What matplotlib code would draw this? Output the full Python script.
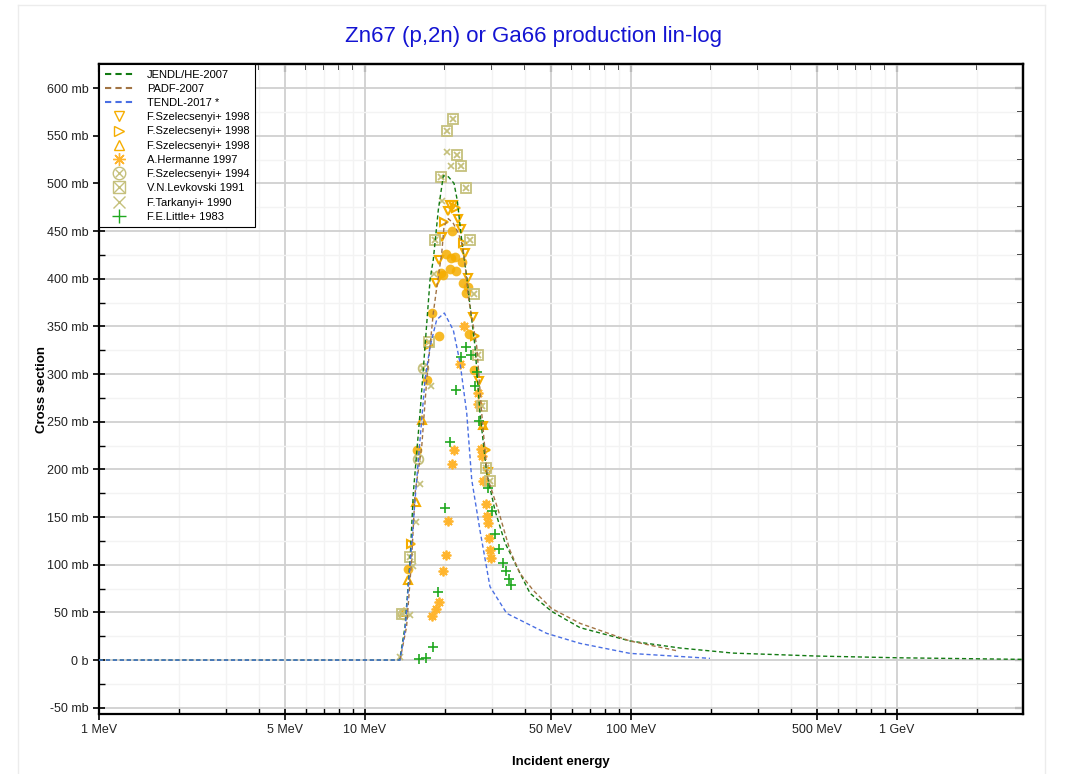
import matplotlib
matplotlib.use("Agg")
import matplotlib.pyplot as plt
import numpy as np
from matplotlib.lines import Line2D
from matplotlib.legend_handler import HandlerTuple
from matplotlib.ticker import FixedLocator, FuncFormatter, MultipleLocator, NullFormatter

plt.rcParams['font.family'] = ['Liberation Sans', 'DejaVu Sans']

# Evaluated data (energy in MeV, cross section in mb)
jendl_e = [1, 13.5, 14.14, 14.77, 15.19, 16.10, 16.81, 17.56, 18.06, 18.86, 19.70, 20.57, 21.61, 22.23,
           23.10, 24.12, 24.67, 25.91, 27.05, 28.68, 30.80, 33.59, 37.18, 41.73, 50.33, 64.3, 99.1,
           152.9, 241.8, 500, 1000, 3000]
jendl_xs = [0, 0, 35, 105, 175, 259, 329, 399, 420, 472, 508, 507, 500, 482,
            440, 402, 378, 329, 259, 196, 157, 123, 98, 70, 51, 34, 20,
            12.6, 7.3, 4.2, 2.4, 0.7]

padf_e = [13.54, 14.33, 14.97, 15.42, 16.34, 17.06, 18.06, 18.49, 19.43, 19.82, 20.57, 21.48, 22.43,
          23.30, 23.97, 24.45, 26.30, 27.46, 28.83, 31.70, 35.07, 38.24, 42.93, 50.33, 64.3, 99.1, 148.5]
padf_xs = [0, 35, 105, 175, 224, 294, 364, 385, 427, 455, 463, 458, 448,
           434, 406, 381, 329, 259, 192, 157, 115, 91, 73, 54, 38.5, 20, 9.8]

tendl_e = [1, 13.54, 14.14, 14.77, 15.42, 16.10, 16.81, 17.56, 18.60, 19.87, 21.48, 22.76, 24.12,
           25.19, 27.05, 29.50, 34.09, 48.17, 64.3, 99.1, 198]
tendl_xs = [0, 0, 31, 100, 168, 231, 294, 329, 357, 364, 346, 312, 259,
            189, 136, 77, 49, 28, 17.5, 7.0, 1.8]

# Experimental data
szel98a_e = [18.49, 18.98, 19.53, 20.46, 20.87, 21.48, 22.43, 22.96, 23.76, 24.45, 25.41, 26.90, 27.84, 29.07]
szel98a_xs = [395, 420, 444, 471, 477, 477, 463, 452, 427, 401, 360, 293, 246, 197]

szel98b_e = [14.89, 17.45, 19.87, 21.93, 23.42, 25.91, 28.50]
szel98b_xs = [122, 330, 460, 474, 437, 340, 220]

szel98c_e = [14.02, 14.47, 15.55, 16.34, 27.84]
szel98c_xs = [50, 84, 166, 252, 247]

herm97_e = [17.91, 18.45, 19.03, 19.59, 20.16, 20.46, 21.29, 21.66, 22.76, 23.56, 26.53, 26.67,
            27.30, 27.46, 27.84, 28.43, 28.68, 28.93, 29.26, 29.50, 29.77]
herm97_xs = [46.5, 54, 61, 93, 110, 146, 206, 220, 311, 350, 280, 269,
             221, 214, 188, 164, 151, 144, 128, 115, 107]

szel94_e = [15.78, 16.56, 13.90]
szel94_xs = [211, 306, 48]

levk91_e = [21.36, 20.28, 22.12, 23.01, 19.26, 23.90, 18.28, 24.75, 25.70, 26.67, 17.45,
            27.54, 28.50, 29.50, 14.77, 13.78]
levk91_xs = [568, 555, 530, 518, 507, 495, 441, 441, 384, 320, 334,
             266, 201, 188, 108, 48]

tark90_e = [20.28, 21.13, 19.48, 18.22, 17.71, 16.14, 15.51, 15.19, 14.77, 13.54]
tark90_xs = [533, 518, 482, 405, 287, 185, 145, 99, 47, 3.5]

little83_e = [15.96, 16.96, 17.97, 18.86, 19.99, 20.87, 21.93, 22.96, 23.90, 25.03, 25.91, 26.37,
              26.83, 28.93, 29.94, 30.80, 31.89, 32.93, 33.89, 34.78, 35.39]
little83_xs = [1.4, 2.4, 14, 71, 160, 229, 283, 318, 328, 320, 287, 302,
               251, 180, 156, 132, 117, 102, 93, 85, 79]

# unlabelled filled points
dots_e = [14.55, 15.65, 17.06, 17.91, 18.94, 19.31, 19.70, 20.16, 20.87, 21.06, 21.18, 21.79,
          21.93, 23.16, 23.42, 23.90, 24.45, 24.66, 25.76]
dots_xs = [95, 220, 294, 364, 340, 406, 404, 426, 410, 422, 450, 423,
           408, 418, 396, 385, 391, 342, 304]

xtick_vals = [1, 5, 10, 50, 100, 500, 1000]
xtick_labels = ["1 MeV", "5 MeV", "10 MeV", "50 MeV", "100 MeV", "500 MeV", "1 GeV"]

c_green = "#127a12"
c_brown = "#a27444"
c_blue = "#4a6fe3"
c_orange = "#f5ad00"
c_orange2 = "#ffb52e"
c_khaki = "#c5c07c"
c_plus = "#1fa81f"

fig = plt.figure(figsize=(10.71, 7.74), dpi=100)
ax = fig.add_axes([0.0924, 0.0775, 0.863, 0.8398])

dash = (0, (3, 2))
ax.plot(jendl_e, jendl_xs, color=c_green, lw=1, ls=dash, zorder=4)
ax.plot(padf_e, padf_xs, color=c_brown, lw=1, ls=dash, zorder=4)
ax.plot(tendl_e, tendl_xs, color=c_blue, lw=1, ls=dash, zorder=4)

ax.plot(dots_e, dots_xs, ls="none", marker="o", ms=7, color=c_orange, alpha=0.85, mew=0, zorder=3)
ax.plot(szel98a_e, szel98a_xs, ls="none", marker="v", ms=6, mfc="none", mec=c_orange, mew=1.5, zorder=3)
ax.plot(szel98b_e, szel98b_xs, ls="none", marker=">", ms=6, mfc="none", mec=c_orange, mew=1.5, zorder=3)
ax.plot(szel98c_e, szel98c_xs, ls="none", marker="^", ms=6, mfc="none", mec=c_orange, mew=1.5, zorder=3)
ax.plot(herm97_e, herm97_xs, ls="none", marker=(8, 2, 0), ms=7, color=c_orange2, mew=1.3, zorder=3)
ax.plot(szel94_e, szel94_xs, ls="none", marker="o", ms=7, mfc="none", mec=c_khaki, mew=1.3, zorder=3)
ax.plot(szel94_e, szel94_xs, ls="none", marker="x", ms=5, color=c_khaki, mew=1.3, zorder=3)
ax.plot(levk91_e, levk91_xs, ls="none", marker="s", ms=6.5, mfc="none", mec=c_khaki, mew=1.3, zorder=3)
ax.plot(levk91_e, levk91_xs, ls="none", marker="x", ms=5, color=c_khaki, mew=1.3, zorder=3)
ax.plot(tark90_e, tark90_xs, ls="none", marker="x", ms=5, color=c_khaki, mew=1.2, zorder=3)
ax.plot(little83_e, little83_xs, ls="none", marker="+", ms=7, color=c_plus, mew=1.2, zorder=3)

# axes
ax.set_xscale("log")
ax.set_xlim(1, 2980)
ax.set_ylim(-56.6, 625.2)
minor_x = [m * 10 ** k for k in range(0, 4) for m in range(2, 10)]
minor_x = [v for v in minor_x if v not in xtick_vals and v < 2980]
ax.xaxis.set_major_locator(FixedLocator(xtick_vals))
ax.set_xticklabels(xtick_labels)
ax.xaxis.set_minor_locator(FixedLocator(minor_x))
ax.xaxis.set_minor_formatter(NullFormatter())
ax.yaxis.set_major_locator(MultipleLocator(50))
ax.yaxis.set_minor_locator(MultipleLocator(25))
ax.yaxis.set_major_formatter(FuncFormatter(lambda v, p: "0 b" if abs(v) < 1e-9 else f"{int(round(v))} mb"))

ax.grid(which="major", color="#d0d0d0", lw=1.3)
ax.grid(which="minor", color="#f3f3f3", lw=1.0)
ax.set_axisbelow(True)
ax.tick_params(which="major", direction="inout", length=8, width=1.2, labelsize=9, labelcolor="#222222")
ax.tick_params(which="minor", direction="in", length=4, width=1)
for s in ax.spines.values():
    s.set_linewidth(1.6)

# inward ticks on top and right
axt = ax.secondary_xaxis("top")
axt.xaxis.set_major_locator(FixedLocator(xtick_vals))
axt.xaxis.set_minor_locator(FixedLocator(minor_x))
axt.xaxis.set_major_formatter(NullFormatter())
axt.xaxis.set_minor_formatter(NullFormatter())
axr = ax.secondary_yaxis("right")
axr.yaxis.set_major_locator(MultipleLocator(50))
axr.yaxis.set_minor_locator(MultipleLocator(25))
axr.yaxis.set_major_formatter(NullFormatter())
axr.yaxis.set_minor_formatter(NullFormatter())
for a in (axt, axr):
    a.tick_params(which="major", direction="in", length=6, width=1.5, color="black")
    a.tick_params(which="minor", direction="in", length=4, width=1.2, color="black")
    for s in a.spines.values():
        s.set_linewidth(1.6)

ax.set_xlabel("Incident energy", fontsize=9.5, fontweight="bold", labelpad=14)
ax.set_ylabel("Cross section", fontsize=9.5, fontweight="bold", labelpad=-1)
fig.text(0.498, 0.953, "Zn67 (p,2n) or Ga66 production lin-log", ha="center", va="center",
         fontsize=16, color="#1414d2")

# faint figure frame
for xs_, ys_ in [([0.017, 0.017], [0, 0.993]), ([0.017, 0.976], [0.993, 0.993]), ([0.976, 0.976], [0, 0.993])]:
    fig.add_artist(Line2D(xs_, ys_, color="#ececec", lw=1, transform=fig.transFigure))

# legend
def mk(marker, **kw):
    return Line2D([], [], ls="none", marker=marker, **kw)

handles = [
    Line2D([], [], color=c_green, lw=1.5, ls=(0, (3, 2))),
    Line2D([], [], color=c_brown, lw=1.5, ls=(0, (3, 2))),
    Line2D([], [], color=c_blue, lw=1.5, ls=(0, (3, 2))),
    mk("v", ms=7, mfc="none", mec=c_orange, mew=1),
    mk(">", ms=7, mfc="none", mec=c_orange, mew=1),
    mk("^", ms=7, mfc="none", mec=c_orange, mew=1),
    mk((8, 2, 0), ms=9, color=c_orange2, mew=1),
    (mk("o", ms=9, mfc="none", mec=c_khaki, mew=1), mk("x", ms=6, color=c_khaki, mew=1)),
    (mk("s", ms=9, mfc="none", mec=c_khaki, mew=1), mk("x", ms=8, color=c_khaki, mew=1)),
    mk("x", ms=8, color=c_khaki, mew=1),
    mk("+", ms=10, color=c_plus, mew=1),
]
labels = ["JENDL/HE-2007", "PADF-2007", "TENDL-2017 *", "F.Szelecsenyi+ 1998", "F.Szelecsenyi+ 1998",
          "F.Szelecsenyi+ 1998", "A.Hermanne 1997", "F.Szelecsenyi+ 1994", "V.N.Levkovski 1991",
          "F.Tarkanyi+ 1990", "F.E.Little+ 1983"]
leg = ax.legend(handles, labels, loc="upper left", bbox_to_anchor=(0, 1), borderaxespad=0,
                fontsize=8, labelspacing=0.38, handlelength=2.6, handletextpad=1.2,
                borderpad=0.5, fancybox=False, framealpha=1, edgecolor="black",
                handler_map={tuple: HandlerTuple(ndivide=1)})
leg.get_frame().set_linewidth(0.8)
leg.set_zorder(10)

fig.savefig("out.png", dpi=100)
